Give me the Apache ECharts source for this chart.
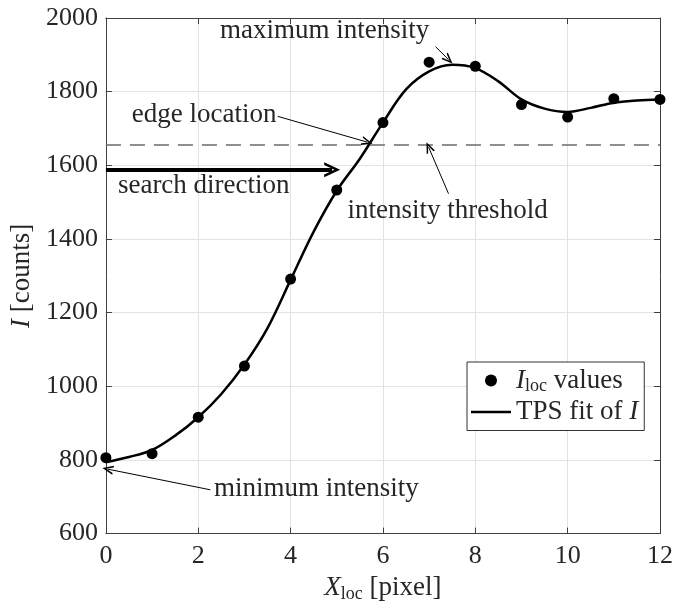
<!DOCTYPE html>
<html><head><meta charset="utf-8">
<script src="https://cdn.jsdelivr.net/npm/echarts@6/dist/echarts.min.js"></script>
<style>html,body{margin:0;padding:0;background:#fff}#c{width:676px;height:608px}</style>
</head><body><div id="c"></div>
<script>
// measured I_loc values
const xLoc = [0,1,2,3,4,5,6,7,8,9,10,11,12];
const iLoc = [806,817,916,1055,1291,1533,1716,1880,1869,1765,1731,1781,1779];
// TPS fit curve
const fitX = [0,0.5,1,1.5,2,2.5,3,3.5,4,4.5,5,5.5,6,6.5,7,7.5,8,8.5,9,9.5,10,10.5,11,11.5,12];
const fitY = [794,808,827,866,916,979,1059,1158,1289,1420,1531,1618,1716,1806,1855,1873,1864,1828,1779,1754,1745,1756,1770,1776,1779];
const threshold = 1655;
const xTicks = [0,2,4,6,8,10,12];
const yTicks = [600,800,1000,1200,1400,1600,1800,2000];

const FONT = 'Liberation Serif';
const TXT = '#262626';
const AX = '#404040';
const vArrow = 'path://M5,0 L10,10 L8.2,10 L5,3.6 L1.8,10 L0,10 Z';

const chart = echarts.init(document.getElementById('c'), null, {renderer:'canvas'});
const rich = {
  i:{fontStyle:'italic', fontFamily:FONT, fontSize:27, color:TXT},
  t:{fontFamily:FONT, fontSize:27, color:TXT},
  sub:{fontFamily:FONT, fontSize:18, color:TXT, padding:[12,0,0,0]}
};
const ann = (x,y,text)=>({coord:[x,y], symbolSize:0, label:{show:true, position:'right', distance:0, formatter:text, fontFamily:FONT, fontSize:27, color:TXT}});
const arr = (x1,y1,x2,y2,w,s)=>[{coord:[x1,y1], symbol:'none', lineStyle:{width:w,color:'#000',type:'solid'}},{coord:[x2,y2], symbol:vArrow, symbolSize:s}];
const plain = v => String(v);

const option = {
  animation:false,
  grid:{left:105, right:12, top:18, bottom:71, containLabel:false},
  xAxis:[{
    type:'value', min:0, max:12, interval:2, position:'bottom',
    axisLine:{show:true, lineStyle:{color:AX, width:1}},
    axisTick:{show:true, inside:true, length:6, lineStyle:{color:AX}},
    axisLabel:{fontFamily:FONT, fontSize:26, color:TXT, margin:10, formatter:plain},
    splitLine:{show:true, lineStyle:{color:'#e3e3e3', width:1}},
    name:'{i|X}{sub|loc}{t| [pixel]}', nameLocation:'middle', nameGap:30,
    nameTextStyle:{rich:rich}
  },{
    type:'value', min:0, max:12, interval:2, position:'top',
    axisLine:{show:true, onZero:false, lineStyle:{color:AX, width:1}},
    axisTick:{show:true, inside:true, length:6, lineStyle:{color:AX}},
    axisLabel:{show:false}, splitLine:{show:false}
  }],
  yAxis:[{
    type:'value', min:600, max:2000, interval:200, position:'left',
    axisLine:{show:true, lineStyle:{color:AX, width:1}},
    axisTick:{show:true, inside:true, length:6, lineStyle:{color:AX}},
    axisLabel:{fontFamily:FONT, fontSize:26, color:TXT, margin:8, formatter:plain},
    splitLine:{show:true, lineStyle:{color:'#e3e3e3', width:1}},
    name:'{i|I}{t| [counts]}', nameLocation:'middle', nameGap:68,
    nameTextStyle:{rich:rich}
  },{
    type:'value', min:600, max:2000, interval:200, position:'right',
    axisLine:{show:true, onZero:false, lineStyle:{color:AX, width:1}},
    axisTick:{show:true, inside:true, length:6, lineStyle:{color:AX}},
    axisLabel:{show:false}, splitLine:{show:false}
  }],
  legend:{
    orient:'vertical', left:467, top:362, width:186,
    backgroundColor:'#fff', borderColor:'#333', borderWidth:1,
    padding:[5,6,5,4], itemGap:3, itemWidth:40, itemHeight:12,
    data:[{name:'scatter', icon:'circle'}, {name:'fit', icon:'path://M0,0 L40,0 L40,2.5 L0,2.5 Z'}],
    formatter:function(n){ return n==='scatter' ? '{i|I}{sub|loc}{t| values}' : '{t|TPS fit of }{i|I}'; },
    textStyle:{rich:rich, fontFamily:FONT, fontSize:27, color:TXT},
    selectedMode:false
  },
  series:[{
    name:'fit', type:'line', xAxisIndex:0, yAxisIndex:0,
    data: fitX.map((x,i)=>[x,fitY[i]]),
    smooth:0.35, symbol:'none', showSymbol:false, lineStyle:{color:'#000', width:2.5}, itemStyle:{color:'#000'},
    silent:true, z:3,
    markLine:{
      silent:true, animation:false, label:{show:false},
      symbol:['none','none'],
      data:[
        [{coord:[0,threshold], symbol:'none', lineStyle:{type:[15,9], color:'#6b6b6b', width:1.5}},{coord:[12,threshold], symbol:'none'}],
        arr(0,1588,4.9,1588,4,[15,16]),
        arr(3.72,1733,5.66,1663,1,[9,11]),
        arr(7.42,1523,6.99,1649,1,[9,11]),
        arr(7.14,1922,7.42,1887,1,[9,11]),
        arr(2.26,719,0.04,775,1,[9,11])
      ]
    },
    markPoint:{
      silent:true, animation:false, symbol:'circle', symbolSize:0,
      data:[
        ann(2.47,1965,'maximum intensity'),
        ann(0.56,1738,'edge location'),
        ann(0.26,1544,'search direction'),
        ann(5.23,1477,'intensity threshold'),
        ann(2.34,721,'minimum intensity')
      ]
    }
  },{
    name:'scatter', type:'scatter', xAxisIndex:0, yAxisIndex:0,
    data: xLoc.map((x,i)=>[x,iLoc[i]]),
    symbol:'circle', symbolSize:11, itemStyle:{color:'#000', opacity:1}, silent:true, z:4
  }]
};
chart.setOption(option);
</script></body></html>
